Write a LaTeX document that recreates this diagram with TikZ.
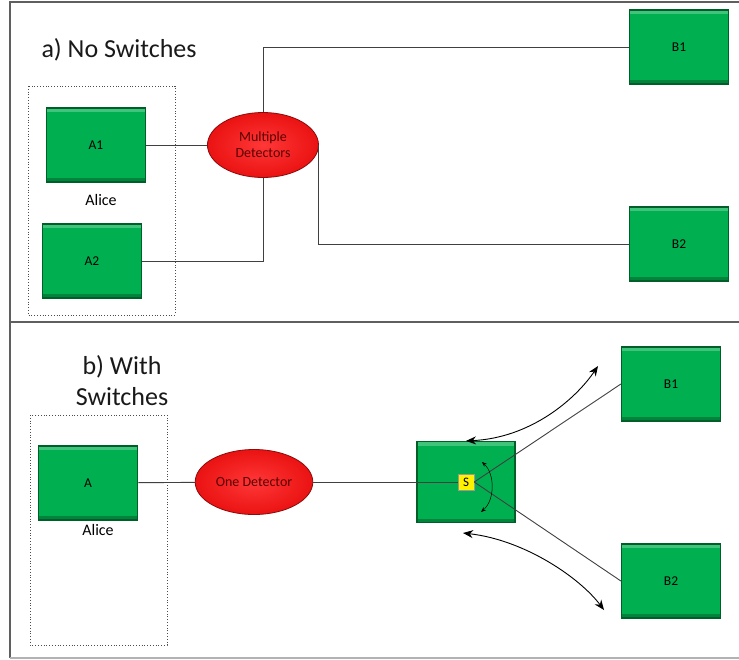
\documentclass[tikz,border=0pt]{standalone}
\usepackage{fontspec}
\setmainfont{Carlito}
\usetikzlibrary{shapes.geometric,arrows.meta}
\definecolor{boxgreen}{RGB}{0,176,80}
\definecolor{boxedge}{RGB}{0,95,40}
\definecolor{detred}{RGB}{255,20,20}
\definecolor{dettext}{RGB}{90,0,0}
\definecolor{framegray}{RGB}{95,95,95}
\tikzset{unit/.style = {draw=boxedge, line width=1.2pt, fill=boxgreen,
                        minimum width=99pt, minimum height=74pt,
                        font=\fontsize{13.5}{16}\selectfont, text=black,
                        path picture={
                          \fill[white,opacity=0.25] (path picture bounding box.north west)
                             rectangle ([yshift=-4pt]path picture bounding box.north east);
                          \fill[black,opacity=0.25] (path picture bounding box.south west)
                             rectangle ([yshift=4pt]path picture bounding box.south east);}},
         detector/.style = {ellipse, draw=detred!55!black, line width=0.8pt,
                        inner color=detred!85!white, outer color=detred!92!black,
                        minimum width=111pt, minimum height=65pt, align=center,
                        font=\fontsize{14}{16}\selectfont, text=dettext},
         group/.style = {draw=black!70, dotted, line width=0.8pt},
         title/.style = {font=\fontsize{26}{31}\selectfont, text=black!90},
         wire/.style = {draw=black!75, line width=0.9pt},
         swing/.style = {line width=0.9pt, {Stealth[length=10pt,width=8pt]}-{Stealth[length=10pt,width=8pt]}}}

\begin{document}
\begin{tikzpicture}[x=1pt,y=-1pt]
    \useasboundingbox (0,0) rectangle (739,659);
    % frame
    \draw[framegray, line width=1.5pt] (739,2) -- (10,2) -- (10,658);
    \draw[framegray, line width=1.5pt] (10,322) -- (739,322);
    \draw[black!30, line width=1.5pt] (10,658) -- (739,658);

    % a) no switches
    \node[title, anchor=west] (ta) at (38,50) {a) No Switches};
    \draw[group] (28,86) rectangle (175,315);
    \node[unit] (a1) at (96,145) {A1};
    \node[unit] (a2) at (92,261) {A2};
    \node[font=\fontsize{16}{19}\selectfont] (alicea) at (101,200) {Alice};
    \node[detector] (md) at (263,145) {Multiple\\Detectors};
    \node[unit] (b1) at (679,47) {B1};
    \node[unit] (b2) at (679,244) {B2};

    \draw[wire] (a1) -- (md);
    \draw[wire] (md.north) |- (b1);
    \draw[wire] (md.east) |- (b2);
    \draw[wire] (a2) -| (md.south);

    % b) with switches
    \node[title, align=center] (tb) at (122,381) {b) With\\Switches};
    \draw[group] (30,415) rectangle (167,645);
    \node[unit] (a) at (88,483) {A};
    \node[font=\fontsize{16}{19}\selectfont] (aliceb) at (98,530) {Alice};
    \node[detector] (od) at (254,482) {One Detector};
    \node[unit, minimum width=98pt, minimum height=81pt] (sw) at (466,482) {};
    \node[unit] (c1) at (671,384) {B1};
    \node[unit] (c2) at (671,581) {B2};

    \draw[wire] (a) -- (od);
    \draw[wire] (od) -- (sw.center);
    \node[fill=yellow, draw=black!40, line width=0.4pt, minimum size=16pt, inner sep=0pt,
          font=\fontsize{13}{15}\selectfont] (s) at (466,482) {S};
    \draw[wire] (s.east) -- (c1.west);
    \draw[wire] (s.east) -- (c2.west);

    \coordinate (up1) at (598,366);
    \coordinate (lo0) at (463,533);
    \coordinate (lo1) at (604,610);
    \coordinate (r0) at (482,462);
    \coordinate (r1) at (481,512);
    \draw[swing] (sw.north) .. controls (530,438) and (575,400) .. (up1);
    \draw[swing] (lo0) .. controls (525,540) and (580,578) .. (lo1);
    \draw[line width=0.5pt, {Stealth[length=5pt,width=4pt]}-{Stealth[length=5pt,width=4pt]}]
        (r0) .. controls (495,474) and (495,500) .. (r1);
\end{tikzpicture}
\end{document}
